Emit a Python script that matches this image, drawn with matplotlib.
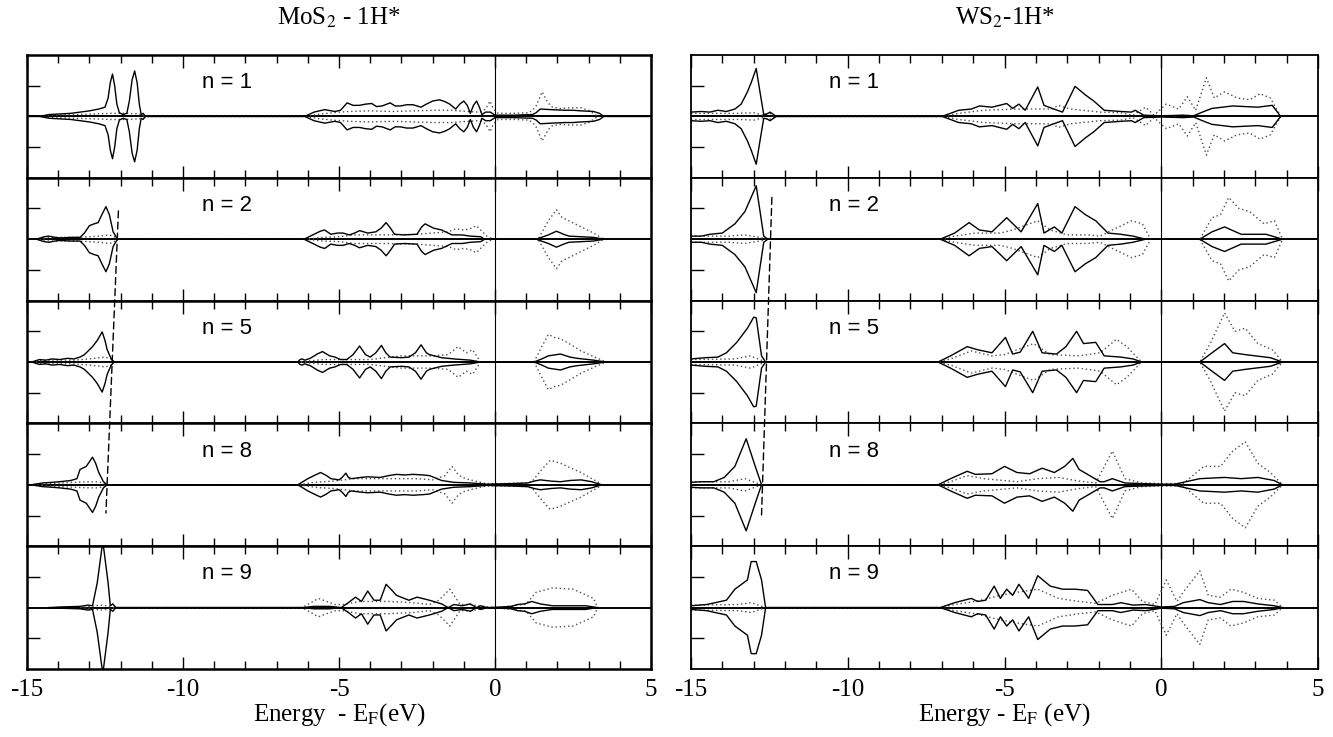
import numpy as np
import matplotlib
matplotlib.use("Agg")
import matplotlib.pyplot as plt
from matplotlib.patches import ConnectionPatch
from matplotlib.ticker import MultipleLocator

plt.rcParams['axes.unicode_minus'] = False
plt.rcParams['mathtext.fontset'] = 'stix'

labels = ["n = 1", "n = 2", "n = 5", "n = 8", "n = 9"]

# (energy, DOS) points; DOS in units of half the row height
# MoS2 - 1H*
mos2_n1_solid = [(-15, 0), (-14.6, 0), (-14.3, 0.03), (-13.95, 0.04), (-13.6, 0.05), (-13.3, 0.07), (-13.0, 0.09),
                 (-12.7, 0.12), (-12.5, 0.15), (-12.4, 0.3), (-12.33, 0.55), (-12.26, 0.69), (-12.19, 0.5),
                 (-12.12, 0.2), (-12.04, 0.06), (-11.92, 0.03), (-11.8, 0.05), (-11.72, 0.25), (-11.63, 0.6),
                 (-11.55, 0.74), (-11.47, 0.55), (-11.4, 0.2), (-11.34, 0.03), (-11.28, 0.05), (-11.2, 0),
                 (-6.1, 0), (-5.8, 0.07), (-5.46, 0.11), (-5.13, 0.08), (-4.95, 0.1), (-4.74, 0.22), (-4.55, 0.18),
                 (-4.34, 0.18), (-4.15, 0.2), (-3.95, 0.21), (-3.8, 0.16), (-3.62, 0.17), (-3.36, 0.22),
                 (-3.2, 0.17), (-3.03, 0.17), (-2.83, 0.19), (-2.63, 0.19), (-2.37, 0.15), (-2.2, 0.2),
                 (-2.0, 0.25), (-1.78, 0.27), (-1.6, 0.24), (-1.45, 0.2), (-1.26, 0.12), (-1.13, 0.2),
                 (-1.0, 0.25), (-0.89, 0.18), (-0.79, 0.05), (-0.69, 0.18), (-0.59, 0.25), (-0.5, 0.15),
                 (-0.42, 0.03), (-0.3, 0.07), (-0.15, 0.07), (0.0, 0.02), (0.6, 0.02), (1.2, 0.03), (1.32, 0.06),
                 (1.45, 0.12), (1.8, 0.11), (2.24, 0.1), (2.5, 0.1), (2.76, 0.09), (3.16, 0.08), (3.35, 0.05),
                 (3.49, 0), (5, 0)]
mos2_n1_dot = [(-14.6, 0), (-14.2, 0.02), (-13.5, 0.03), (-12.8, 0.04), (-12.3, 0.05), (-11.8, 0.05), (-11.4, 0.04),
               (-11.2, 0), (-6.1, 0), (-5.6, 0.04), (-5.2, 0.06), (-4.7, 0.08), (-4.0, 0.09), (-3.3, 0.08),
               (-2.6, 0.09), (-2.0, 0.1), (-1.4, 0.1), (-0.9, 0.08), (-0.5, 0.07), (-0.3, 0.12), (-0.16, 0.25),
               (-0.05, 0.12), (0.1, 0.05), (0.6, 0.05), (1.1, 0.06), (1.3, 0.15), (1.51, 0.4), (1.7, 0.22),
               (1.84, 0.15), (2.1, 0.13), (2.4, 0.14), (2.76, 0.14), (3.0, 0.1), (3.3, 0)]
mos2_n2_solid = [(-14.7, 0), (-14.45, 0.04), (-14.3, 0.05), (-14.1, 0.03), (-13.95, 0.02), (-13.6, 0.03),
                 (-13.3, 0.03), (-13.16, 0.1), (-13.0, 0.22), (-12.85, 0.25), (-12.72, 0.27), (-12.6, 0.4),
                 (-12.47, 0.53), (-12.36, 0.4), (-12.24, 0.12), (-12.1, 0), (-6.12, 0), (-5.8, 0.08),
                 (-5.6, 0.13), (-5.46, 0.15), (-5.26, 0.08), (-5.05, 0.1), (-4.87, 0.1), (-4.67, 0.07),
                 (-4.5, 0.1), (-4.34, 0.14), (-4.08, 0.1), (-3.82, 0.12), (-3.65, 0.18), (-3.49, 0.27),
                 (-3.35, 0.18), (-3.22, 0.08), (-2.9, 0.07), (-2.5, 0.08), (-2.35, 0.2), (-2.24, 0.25),
                 (-1.97, 0.18), (-1.71, 0.15), (-1.38, 0.07), (-1.05, 0.07), (-0.79, 0.05), (-0.46, 0.04),
                 (-0.33, 0), (1.32, 0), (1.71, 0.07), (1.97, 0.13), (2.2, 0.08), (2.37, 0.05), (3.16, 0.03),
                 (3.49, 0)]
mos2_n2_dot = [(-14.6, 0), (-14.3, 0.03), (-13.5, 0.03), (-13.0, 0.04), (-12.7, 0.05), (-12.45, 0.065),
               (-12.25, 0.06), (-12.1, 0), (-6.1, 0), (-5.5, 0.03), (-5.0, 0.04), (-4.5, 0.07), (-3.5, 0.07),
               (-2.5, 0.08), (-2.0, 0.1), (-1.5, 0.12), (-1.25, 0.17), (-1.0, 0.15), (-0.8, 0.17), (-0.6, 0.22),
               (-0.4, 0.12), (-0.26, 0.05), (-0.07, 0), (1.38, 0), (1.71, 0.3), (1.97, 0.48), (2.15, 0.35),
               (2.37, 0.3), (2.76, 0.2), (3.16, 0.1), (3.49, 0)]
mos2_n5_solid = [(-14.85, 0), (-14.6, 0.04), (-14.4, 0.03), (-14.2, 0.05), (-13.95, 0.04), (-13.7, 0.06),
                 (-13.5, 0.05), (-13.3, 0.08), (-13.16, 0.12), (-12.9, 0.25), (-12.75, 0.35), (-12.59, 0.49),
                 (-12.5, 0.35), (-12.43, 0.2), (-12.3, 0.05), (-12.2, 0), (-6.32, 0), (-6.25, 0.04),
                 (-6.18, 0.05), (-6.1, 0.03), (-5.92, 0.06), (-5.7, 0.13), (-5.53, 0.17), (-5.3, 0.1),
                 (-5.13, 0.08), (-4.95, 0.04), (-4.75, 0.04), (-4.55, 0.12), (-4.34, 0.26), (-4.15, 0.12),
                 (-4.0, 0.08), (-3.82, 0.15), (-3.64, 0.27), (-3.5, 0.15), (-3.36, 0.08), (-3.0, 0.07),
                 (-2.76, 0.08), (-2.55, 0.15), (-2.37, 0.28), (-2.2, 0.15), (-2.1, 0.12), (-1.71, 0.07),
                 (-1.32, 0.05), (-0.79, 0.03), (-0.46, 0), (1.25, 0), (1.5, 0.05), (1.71, 0.1), (2.1, 0.13),
                 (2.4, 0.08), (2.63, 0.06), (3.16, 0.03), (3.55, 0)]
mos2_n5_dot = [(-14.85, 0), (-14.5, 0.03), (-13.5, 0.03), (-13.0, 0.05), (-12.5, 0.08), (-12.3, 0.05), (-12.2, 0),
               (-6.3, 0), (-5.5, 0.04), (-4.8, 0.04), (-4.0, 0.04), (-3.5, 0.07), (-3.0, 0.1), (-2.0, 0.1),
               (-1.5, 0.12), (-1.18, 0.25), (-0.92, 0.15), (-0.72, 0.2), (-0.46, 0), (1.25, 0), (1.5, 0.25),
               (1.71, 0.45), (1.9, 0.4), (2.1, 0.38), (2.37, 0.3), (2.76, 0.18), (3.2, 0.08), (3.55, 0)]
mos2_n8_solid = [(-14.87, 0), (-14.5, 0.03), (-14.2, 0.04), (-13.95, 0.05), (-13.6, 0.07), (-13.4, 0.1),
                 (-13.3, 0.25), (-13.1, 0.3), (-12.9, 0.45), (-12.8, 0.35), (-12.7, 0.2), (-12.55, 0.05),
                 (-12.43, 0), (-6.32, 0), (-6.0, 0.1), (-5.8, 0.15), (-5.59, 0.2), (-5.4, 0.15), (-5.26, 0.1),
                 (-5.0, 0.08), (-4.9, 0.12), (-4.78, 0.19), (-4.7, 0.12), (-4.6, 0.1), (-4.3, 0.12),
                 (-4.08, 0.13), (-3.68, 0.12), (-3.4, 0.15), (-3.16, 0.17), (-2.9, 0.16), (-2.63, 0.17),
                 (-2.3, 0.16), (-2.1, 0.15), (-1.71, 0.07), (-1.32, 0.04), (-0.79, 0.03), (-0.26, 0.01),
                 (0.53, 0.02), (1.05, 0.03), (1.25, 0.06), (1.45, 0.08), (1.8, 0.06), (2.1, 0.05), (2.4, 0.07),
                 (2.76, 0.08), (3.1, 0.05), (3.29, 0.02), (3.42, 0)]
mos2_n8_dot = [(-14.8, 0), (-14.3, 0.02), (-13.5, 0.04), (-13.0, 0.05), (-12.7, 0.05), (-12.43, 0), (-6.3, 0),
               (-5.8, 0.04), (-5.2, 0.06), (-4.5, 0.1), (-3.5, 0.1), (-2.5, 0.1), (-2.0, 0.08), (-1.6, 0.15),
               (-1.38, 0.3), (-1.2, 0.18), (-1.05, 0.12), (-0.79, 0.08), (-0.3, 0.02), (0.3, 0.02), (1.0, 0.03),
               (1.18, 0.05), (1.5, 0.25), (1.77, 0.4), (2.1, 0.35), (2.4, 0.28), (2.76, 0.2), (3.1, 0.1),
               (3.29, 0.05), (3.42, 0)]
mos2_n9_solid = [(-14.3, 0), (-13.95, 0.01), (-13.3, 0.02), (-13.05, 0.04), (-12.9, 0.03), (-12.75, 0.4),
                 (-12.57, 1.08), (-12.4, 0.4), (-12.33, 0.03), (-12.25, 0.06), (-12.15, 0), (-6.18, 0),
                 (-5.8, 0.02), (-5.3, 0.02), (-4.93, 0), (-4.7, 0.08), (-4.47, 0.17), (-4.28, 0.1), (-4.08, 0.27),
                 (-3.88, 0.12), (-3.68, 0.12), (-3.49, 0.38), (-3.3, 0.28), (-3.16, 0.2), (-2.76, 0.12),
                 (-2.5, 0.17), (-2.1, 0.12), (-1.71, 0.06), (-1.5, 0.0), (-1.32, 0.05), (-1.05, 0.03),
                 (-0.79, 0.06), (-0.6, 0.0), (-0.46, 0.03), (-0.26, 0.0), (0.2, 0.01), (0.53, 0.02), (0.72, 0.05),
                 (0.95, 0.06), (1.18, 0.1), (1.45, 0.06), (1.84, 0.03), (2.9, 0.03), (3.29, 0)]
mos2_n9_dot = [(-13.3, 0), (-13.0, 0.02), (-12.6, 0.04), (-12.3, 0.02), (-12.2, 0), (-6.18, 0), (-5.66, 0.15),
               (-5.13, 0.05), (-4.87, 0.05), (-4.34, 0.1), (-3.42, 0.1), (-2.63, 0.08), (-2.1, 0.05),
               (-1.8, 0.12), (-1.45, 0.3), (-1.25, 0.15), (-1.12, 0.05), (-0.79, 0.05), (-0.4, 0.02), (0.0, 0),
               (0.6, 0.03), (1.0, 0.06), (1.32, 0.25), (1.84, 0.32), (2.5, 0.3), (3.16, 0.15), (3.29, 0)]

# WS2 - 1H*
ws2_n1_solid = [(-15, 0.07), (-14.67, 0.08), (-14.4, 0.07), (-14.14, 0.1), (-13.87, 0.08), (-13.6, 0.12),
                (-13.4, 0.2), (-13.2, 0.4), (-13.08, 0.55), (-12.92, 0.78), (-12.8, 0.4), (-12.68, 0.03),
                (-12.58, 0.04), (-12.48, 0.07), (-12.28, 0), (-6.99, 0), (-6.46, 0.1), (-6.06, 0.12), (-5.8, 0.17),
                (-5.4, 0.15), (-4.93, 0.21), (-4.74, 0.13), (-4.54, 0.2), (-4.34, 0.1), (-3.94, 0.48),
                (-3.74, 0.18), (-3.48, 0.13), (-3.15, 0.07), (-2.75, 0.49), (-2.42, 0.35), (-2.15, 0.25),
                (-1.82, 0.1), (-1.29, 0.08), (-0.95, 0.07), (-0.83, 0.1), (-0.56, 0.02), (0.0, 0.01), (0.7, 0.02),
                (1.03, 0.01), (1.36, 0.08), (1.62, 0.13), (2.28, 0.17), (3.08, 0.15), (3.54, 0.18), (3.81, 0)]
ws2_n1_dot = [(-15, 0.05), (-13.5, 0.05), (-13.0, 0.06), (-12.7, 0.02), (-12.5, 0.05), (-12.3, 0), (-6.99, 0),
              (-6.46, 0.05), (-5.66, 0.1), (-4.6, 0.12), (-3.5, 0.12), (-3.28, 0.18), (-2.9, 0.12), (-1.95, 0.07),
              (-1.3, 0.06), (-0.9, 0.02), (-0.5, 0.15), (-0.23, 0.02), (0.16, 0.2), (0.56, 0.12), (0.83, 0.32),
              (1.1, 0.1), (1.44, 0.63), (1.69, 0.3), (2.02, 0.4), (2.42, 0.3), (2.82, 0.27), (3.15, 0.37),
              (3.48, 0.3), (3.81, 0)]
ws2_n2_solid = [(-15, 0.05), (-14.67, 0.05), (-14.4, 0.08), (-14.0, 0.1), (-13.6, 0.25), (-13.28, 0.45),
                (-12.92, 0.87), (-12.68, 0.05), (-12.55, 0), (-7.05, 0), (-6.59, 0.1), (-6.13, 0.27), (-5.8, 0.15),
                (-5.4, 0.12), (-4.93, 0.35), (-4.47, 0.12), (-3.94, 0.58), (-3.74, 0.1), (-3.41, 0.2),
                (-3.17, 0.1), (-2.75, 0.53), (-2.42, 0.4), (-2.09, 0.3), (-1.7, 0.1), (-1.29, 0.08), (-0.9, 0.05),
                (-0.5, 0), (1.23, 0), (1.62, 0.12), (2.02, 0.2), (2.55, 0.08), (3.34, 0.08), (3.87, 0)]
ws2_n2_dot = [(-15, 0.05), (-13.8, 0.05), (-13.3, 0.07), (-12.8, 0.03), (-12.55, 0), (-7.05, 0), (-6.59, 0.05),
              (-5.93, 0.1), (-5.13, 0.1), (-4.74, 0.15), (-3.94, 0.3), (-3.54, 0.15), (-3.0, 0.07), (-2.35, 0.07),
              (-1.95, 0.05), (-1.56, 0.15), (-0.95, 0.3), (-0.6, 0.25), (-0.34, 0), (1.23, 0), (1.62, 0.35),
              (1.89, 0.4), (2.15, 0.68), (2.48, 0.5), (2.82, 0.45), (3.28, 0.25), (3.61, 0.3), (3.87, 0)]
ws2_n5_solid = [(-15, 0.05), (-14.54, 0.07), (-14.14, 0.08), (-13.87, 0.15), (-13.54, 0.32), (-13.2, 0.55),
                (-13.0, 0.73), (-12.92, 0.72), (-12.75, 0.1), (-12.62, 0), (-7.12, 0), (-6.72, 0.1), (-6.19, 0.25),
                (-5.86, 0.2), (-5.4, 0.15), (-4.97, 0.4), (-4.74, 0.13), (-4.5, 0.16), (-4.1, 0.5), (-3.8, 0.15),
                (-3.34, 0.13), (-3.04, 0.25), (-2.7, 0.5), (-2.48, 0.3), (-2.09, 0.32), (-1.82, 0.1),
                (-1.29, 0.08), (-0.9, 0.05), (-0.63, 0), (1.23, 0), (1.62, 0.15), (2.02, 0.3), (2.28, 0.15),
                (2.68, 0.12), (3.48, 0.07), (3.87, 0)]
ws2_n5_dot = [(-15, 0.04), (-13.6, 0.05), (-13.1, 0.1), (-12.62, 0), (-7.12, 0), (-6.72, 0.05), (-6.06, 0.18),
              (-5.4, 0.1), (-5.0, 0.12), (-4.6, 0.2), (-4.07, 0.3), (-3.54, 0.12), (-2.62, 0.1), (-1.95, 0.15),
              (-1.43, 0.37), (-1.1, 0.25), (-0.63, 0), (1.23, 0), (1.56, 0.3), (2.02, 0.8), (2.35, 0.5),
              (2.68, 0.55), (3.08, 0.3), (3.54, 0.2), (3.87, 0)]
ws2_n8_solid = [(-15, 0.04), (-14.67, 0.05), (-14.27, 0.05), (-13.94, 0.12), (-13.6, 0.3), (-13.24, 0.75),
                (-12.95, 0.3), (-12.75, 0), (-7.12, 0), (-6.72, 0.1), (-6.19, 0.22), (-5.93, 0.17), (-5.4, 0.18),
                (-5.0, 0.3), (-4.6, 0.2), (-4.2, 0.18), (-3.8, 0.27), (-3.41, 0.2), (-3.08, 0.3), (-2.82, 0.43),
                (-2.62, 0.25), (-1.95, 0.05), (-1.82, 0.05), (-1.56, 0.1), (-1.16, 0.03), (-0.63, 0.02),
                (0.0, 0.01), (0.43, 0.01), (1.23, 0.1), (2.02, 0.12), (2.55, 0.1), (3.08, 0.12), (3.6, 0.07),
                (3.87, 0)]
ws2_n8_dot = [(-15, 0.05), (-13.8, 0.05), (-13.28, 0.1), (-12.75, 0), (-7.12, 0), (-6.72, 0.05), (-6.19, 0.15),
              (-5.66, 0.1), (-4.6, 0.05), (-3.94, 0.1), (-3.28, 0.12), (-2.62, 0.06), (-2.09, 0.03),
              (-1.56, 0.55), (-1.16, 0.1), (-0.63, 0.03), (0.0, 0.02), (0.7, 0.02), (1.36, 0.3), (1.89, 0.3),
              (2.28, 0.55), (2.68, 0.7), (3.08, 0.35), (3.48, 0.2), (3.87, 0)]
ws2_n9_solid = [(-15, 0.03), (-14.5, 0.05), (-13.87, 0.12), (-13.6, 0.3), (-13.2, 0.45), (-13.08, 0.75),
                (-12.92, 0.75), (-12.75, 0.45), (-12.62, 0), (-7.05, 0), (-6.59, 0.08), (-6.06, 0.15),
                (-5.86, 0.1), (-5.6, 0.12), (-5.33, 0.35), (-5.13, 0.15), (-4.93, 0.3), (-4.74, 0.2),
                (-4.54, 0.38), (-4.23, 0.15), (-3.94, 0.52), (-3.54, 0.35), (-3.15, 0.3), (-2.75, 0.3),
                (-2.35, 0.28), (-2.02, 0.05), (-1.56, 0.05), (-1.29, 0.08), (-0.9, 0.04), (-0.5, 0.05),
                (0.0, 0.01), (0.43, 0.02), (0.7, 0.08), (1.23, 0.13), (1.5, 0.08), (1.89, 0.05), (2.28, 0.1),
                (2.62, 0.1), (3.08, 0.06), (3.61, 0.03), (3.87, 0)]
ws2_n9_dot = [(-15, 0.04), (-13.5, 0.05), (-13.08, 0.08), (-12.62, 0), (-7.05, 0), (-6.59, 0.05), (-5.93, 0.1),
              (-5.13, 0.2), (-4.6, 0.25), (-3.94, 0.3), (-3.28, 0.15), (-2.62, 0.1), (-2.09, 0.07), (-1.56, 0.2),
              (-0.95, 0.3), (-0.6, 0.1), (-0.2, 0.05), (0.16, 0.45), (0.5, 0.1), (0.7, 0.25), (1.23, 0.6),
              (1.5, 0.2), (1.89, 0.17), (2.22, 0.3), (2.62, 0.25), (3.08, 0.15), (3.61, 0.12), (3.87, 0)]

mos2_solid = [mos2_n1_solid, mos2_n2_solid, mos2_n5_solid, mos2_n8_solid, mos2_n9_solid]
mos2_dot = [mos2_n1_dot, mos2_n2_dot, mos2_n5_dot, mos2_n8_dot, mos2_n9_dot]
ws2_solid = [ws2_n1_solid, ws2_n2_solid, ws2_n5_solid, ws2_n8_solid, ws2_n9_solid]
ws2_dot = [ws2_n1_dot, ws2_n2_dot, ws2_n5_dot, ws2_n8_dot, ws2_n9_dot]

# dashed guide line: (energy, dos) at its top in row n=2 and bottom in row n=8
mos2_guide = [(-12.07, 0.46), (-12.47, -0.46)]
ws2_guide = [(-12.42, 0.68), (-12.75, -0.49)]

serif = 'Liberation Serif'
sans = 'Liberation Sans'

fig = plt.figure(figsize=(13.33, 7.37), dpi=100)
top, bottom = 1 - 55 / 737, 1 - 669 / 737
gs_l = fig.add_gridspec(5, 1, left=27 / 1333, right=651 / 1333, top=top, bottom=bottom, hspace=0)
gs_r = fig.add_gridspec(5, 1, left=691 / 1333, right=1318 / 1333, top=top, bottom=bottom, hspace=0)


def draw_panel(gs, solid, dot, label_x, spine_w, title, xlabel, guide):
   axes = []
   for i in range(5):
      ax = fig.add_subplot(gs[i, 0])
      axes.append(ax)
      e, v = np.array(solid[i]).T
      ax.plot(e, v, color='k', lw=1.0, zorder=3)
      ax.plot(e, -v, color='k', lw=1.0, zorder=3)
      e, v = np.array(dot[i]).T
      ax.plot(e, v, color='0.3', lw=1.0, ls=(0, (1, 2)), zorder=2)
      ax.plot(e, -v, color='0.3', lw=1.0, ls=(0, (1, 2)), zorder=2)
      ax.axhline(0, color='k', lw=1.4, zorder=1)
      ax.axvline(0, color='k', lw=0.8, zorder=1)
      ax.set_xlim(-15, 5)
      ax.set_ylim(-1, 1)
      ax.xaxis.set_major_locator(MultipleLocator(5))
      ax.xaxis.set_minor_locator(MultipleLocator(1))
      ax.set_yticks([-0.5, 0.5])
      ax.set_yticklabels([])
      ax.tick_params(axis='x', which='both', direction='in', top=True, bottom=True, width=1.0)
      ax.tick_params(axis='x', which='major', length=9)
      ax.tick_params(axis='x', which='minor', length=5.5)
      ax.tick_params(axis='y', direction='in', length=9, width=1.0, left=True, right=False)
      for s in ax.spines.values():
         s.set_linewidth(spine_w)
      ax.text(label_x, 0.55, labels[i], family=sans, fontsize=16, ha='center', va='center')
      if i < 4:
         ax.set_xticklabels([])
      else:
         for t in ax.get_xticklabels():
            t.set_fontfamily(serif)
            t.set_fontsize(18)
         ax.tick_params(axis='x', which='major', pad=7)
         ax.set_xlabel(xlabel, family=serif, fontsize=18, labelpad=0)
   axes[0].set_title(title, family=serif, fontsize=18, pad=22)
   con = ConnectionPatch(xyA=guide[0], coordsA=axes[1].transData, xyB=guide[1], coordsB=axes[3].transData,
                         ls=(0, (5, 3)), lw=1.0, color='k', zorder=5)
   fig.add_artist(con)
   return axes


draw_panel(gs_l, mos2_solid, mos2_dot, -8.6, 1.8, "MoS$_2$ - 1H*", "Energy  - E$_\\mathrm{F}$(eV)", mos2_guide)
draw_panel(gs_r, ws2_solid, ws2_dot, -9.8, 1.3, "WS$_2$-1H*", "Energy - E$_\\mathrm{F}$ (eV)", ws2_guide)

fig.savefig("out.png", dpi=100)
